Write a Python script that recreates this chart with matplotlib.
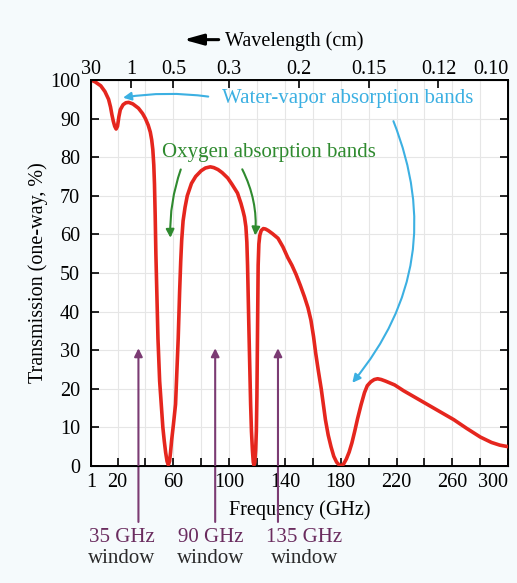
import numpy as np
import matplotlib.pyplot as plt

plt.rcParams['font.family'] = ['Liberation Serif', 'DejaVu Serif']

# Atmospheric transmission (one-way) vs frequency
freq_ghz = [1, 4, 8, 11, 13.6, 15, 16, 17, 18, 19, 20, 21, 22, 24, 26, 28, 31, 35,
            38, 40, 42, 43.5, 44.5, 45.3, 46, 46.5, 47, 47.5, 48.2, 49, 50.2, 51.5,
            52.5, 53.5, 54.5, 55.5, 56.4, 57.3, 58, 58.8, 60, 61.6, 62.5, 63.5, 64.5,
            65.3, 66, 67, 68.4, 70, 73, 76, 80, 83, 86.5, 89, 92, 95, 99, 102, 106,
            108.5, 110, 111, 112, 112.7, 113.2, 113.7, 114.2, 114.8, 115.4, 116,
            116.7, 117.3, 117.8, 118.4, 119, 119.5, 119.9, 120.2, 120.5, 120.8,
            121.3, 122, 123, 124.5, 126, 128, 131, 135, 138.5, 142, 145, 148, 151,
            154, 156.5, 158.6, 160.5, 162, 164, 166, 167.5, 169, 171, 173, 175, 177,
            179, 180.5, 182, 184, 186, 188, 190, 192, 194.5, 197, 199, 201.5, 204,
            206.4, 209, 212, 218.6, 225, 237, 249, 261, 270, 280, 288, 294, 300]
transmission = [100, 99.5, 98.5, 97, 95, 93, 91, 89.3, 88, 87.3, 88, 90.5, 92.3, 93.6,
                94.1, 94.2, 93.8, 92.7, 91.3, 90, 88.3, 86.5, 84.5, 82, 78, 73, 65,
                55, 45, 33, 22, 15, 10, 6.5, 3.5, 1.2, 0.3, 1.2, 3.5, 6.7, 10.5, 16,
                24, 33, 45, 53, 58.5, 63.5, 67, 70, 73.2, 75, 76.5, 77.2, 77.5, 77.3,
                76.8, 76, 74.6, 73, 70.7, 68, 66, 64.5, 62, 58, 52, 44, 35, 25, 16, 9,
                4, 1, 0.2, 1, 4, 9, 18, 30, 42, 52, 57.5, 59.8, 61, 61.5, 61.4, 61,
                60.2, 59, 56.8, 54, 52, 49.6, 46.8, 43.8, 41, 37.8, 33.5, 29.3, 24.5,
                20, 16, 12, 8, 5, 2.5, 1, 0.2, 0.1, 0.5, 1.8, 3.6, 6, 9, 12.2, 15.8,
                19, 20.8, 21.8, 22.4, 22.6, 22.4, 22, 21, 19.5, 17, 14.5, 12, 9.8,
                7.5, 6.1, 5.4, 5]

x_ticks = [1, 20, 40, 60, 80, 100, 120, 140, 160, 180, 200, 220, 240, 260, 280, 300]
x_labels = ['1', '20', '', '60', '', '100', '', '140', '', '180', '', '220', '', '260', '', '300']
y_ticks = list(range(0, 101, 10))

# wavelength (cm) = 30 / f (GHz)
wl_pos = [1, 30, 60, 100, 150, 200, 250, 300]
wl_labels = ['30', '1', '0.5', '0.3', '0.2', '0.15', '0.12', '0.10']

windows = [35, 90, 135]
window_labels = ['35 GHz', '90 GHz', '135 GHz']
window_text_x = [23, 87, 154]

red = '#e5261e'
blue = '#3cb0e2'
green = '#2f8a2f'
purple = '#7b3b73'

fig = plt.figure(figsize=(5.17, 5.83), dpi=100, facecolor='#f5fafc')
ax = fig.add_axes([0.176, 0.2007, 0.807, 0.6621])
ax.set_facecolor('white')

ax.plot(freq_ghz, transmission, color=red, lw=2.6, solid_capstyle='round',
        solid_joinstyle='round', zorder=3)

ax.set_xlim(1, 300)
ax.set_ylim(0, 100)
ax.set_xticks(x_ticks)
ax.set_xticklabels(x_labels)
ax.get_xticklabels()[-1].set_ha('right')
ax.set_yticks(y_ticks)
ax.grid(True, color='#e6e6e6', lw=0.8)
ax.tick_params(direction='in', length=6, width=1.2, labelsize=14.5, right=True,
               colors='black')
ax.tick_params(axis='x', pad=5)
ax.tick_params(axis='y', pad=8)
for s in ax.spines.values():
    s.set_linewidth(1.4)

ax.set_xlabel('Frequency (GHz)', fontsize=14.5, labelpad=6)
ax.set_ylabel('Transmission (one-way, %)', fontsize=14.5, labelpad=1)

top = ax.twiny()
top.set_xlim(ax.get_xlim())
top.set_xticks(wl_pos)
top.set_xticklabels(wl_labels)
top.tick_params(direction='in', length=6, width=1.2, labelsize=14.5, pad=1)
top.get_xticklabels()[-1].set_ha('right')

fig.text(0.435, 0.930, 'Wavelength (cm)', fontsize=14.5, ha='left', va='center')
ax.annotate('', xy=(0.355, 0.932), xytext=(0.423, 0.932),
            xycoords='figure fraction', textcoords='figure fraction',
            arrowprops=dict(arrowstyle='-|>,head_length=0.9,head_width=0.25',
                            color='black', lw=2.2, mutation_scale=13,
                            shrinkA=0, shrinkB=0))

# absorption band callouts
ax.text(95, 95.3, 'Water-vapor absorption bands', color=blue, fontsize=15,
        va='center', ha='left')
ax.annotate('', xy=(22, 95.3), xytext=(87, 95.6),
            arrowprops=dict(arrowstyle='-|>', color=blue, lw=1.5,
                            mutation_scale=12, connectionstyle='arc3,rad=0.08'))
ax.annotate('', xy=(187, 21), xytext=(217, 90),
            arrowprops=dict(arrowstyle='-|>', color=blue, lw=1.5,
                            mutation_scale=12, connectionstyle='arc3,rad=-0.3'))

ax.text(52, 81.3, 'Oxygen absorption bands', color=green, fontsize=15,
        va='center', ha='left')
ax.annotate('', xy=(58, 58.4), xytext=(66, 77.5),
            arrowprops=dict(arrowstyle='-|>', color=green, lw=1.5,
                            mutation_scale=12, connectionstyle='arc3,rad=0.1'))
ax.annotate('', xy=(118.5, 59), xytext=(108.5, 77.5),
            arrowprops=dict(arrowstyle='-|>', color=green, lw=1.5,
                            mutation_scale=12, connectionstyle='arc3,rad=-0.15'))

# transmission windows
for xw, lab, xt in zip(windows, window_labels, window_text_x):
    ax.annotate('', xy=(xw, 30.5), xytext=(xw, -14.5), annotation_clip=False,
                arrowprops=dict(arrowstyle='-|>', color=purple, lw=1.5,
                                mutation_scale=12, shrinkA=0, shrinkB=0))
    ax.text(xt, -18.5, lab, color='#6a2c5f', fontsize=15, ha='center',
            va='center', clip_on=False)
    ax.text(xt, -24, 'window', color='#2a2a2a', fontsize=15, ha='center',
            va='center', clip_on=False)

fig.savefig('out.png', dpi=100, facecolor=fig.get_facecolor())
